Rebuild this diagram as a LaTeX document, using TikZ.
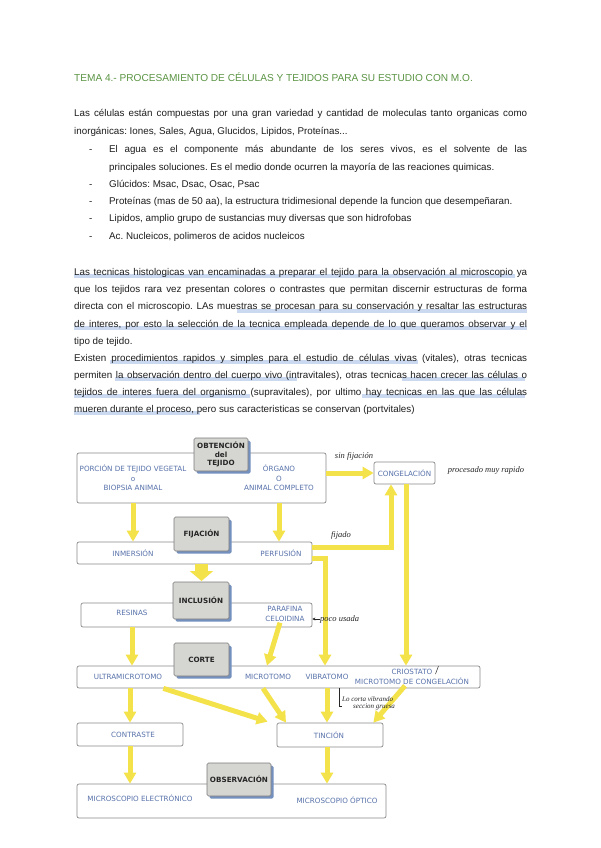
\documentclass[tikz,border=0pt]{standalone}
\usepackage{fontspec}
\setmainfont{Liberation Sans}
\newfontfamily\diafont{DejaVu Sans}
\newfontfamily\handfont{Liberation Serif}
\usetikzlibrary{arrows.meta,shadows}
\definecolor{titlegreen}{HTML}{5A9443}
\definecolor{bodytext}{HTML}{1E1E1E}
\definecolor{hlblue}{HTML}{CAD8F0}
\definecolor{diablue}{HTML}{5872AA}
\definecolor{boxborder}{HTML}{8A8A8A}
\definecolor{lblborder}{HTML}{7A7A7A}
\definecolor{lblfill}{HTML}{D5D5D1}
\definecolor{lblshadow}{HTML}{7390BE}
\definecolor{yel}{HTML}{F4E24A}
\newcommand{\jline}[2]{\makebox[#1][s]{#2}}
\frenchspacing
\begin{document}
\begin{tikzpicture}[x=1pt,y=-1pt,
  txt/.style={inner sep=0pt, anchor=base west, text=bodytext, font=\fontsize{9.8}{11}\selectfont},
  hl/.style={draw=hlblue, line width=4pt},
  wbox/.style={draw=boxborder, fill=white, rounded corners=2pt, line width=0.7pt, inner sep=0pt},
  lbl/.style={draw=lblborder, fill=lblfill, rounded corners=1.5pt, line width=0.6pt, inner sep=0pt, align=center, font=\diafont\bfseries\fontsize{7.2}{8.8}\selectfont, text=black!85, drop shadow={shadow xshift=2.5pt, shadow yshift=-2.5pt, fill=lblshadow, opacity=1}},
  dtext/.style={inner sep=1pt, align=center, text=diablue, font=\diafont\fontsize{7.2}{9.6}\selectfont},
  yarr/.style={draw=yel, line width=5pt, -{Triangle[width=12pt,length=11pt]}},
  fatarr/.style={draw=yel, line width=13pt, -{Triangle[width=23pt,length=10pt]}},
  hand/.style={inner sep=0pt, text=black!85, font=\handfont\itshape\fontsize{8.5}{9}\selectfont},
  handsmall/.style={inner sep=0pt, text=black!85, align=left, font=\handfont\itshape\fontsize{7}{8}\selectfont},
  handline/.style={draw=black!85, line width=0.5pt}
]
\fill[white] (0,0) rectangle (600,848);
\useasboundingbox (0,0) rectangle (600,848);

% ---------- title ----------
\node[txt, text=titlegreen, font=\fontsize{10.1}{11}\selectfont] (title) at (74,82) {TEMA 4.- PROCESAMIENTO DE CÉLULAS Y TEJIDOS PARA SU ESTUDIO CON M.O.};

% ---------- highlights ----------
\draw[hl] (74,276) -- (515,276);
\draw[hl] (237,310.5) -- (527,310.5);
\draw[hl] (74,328) -- (527,328);
\draw[hl] (110,362) -- (418,362);
\draw[hl] (115,379) -- (297,379);
\draw[hl] (402,379) -- (525,379);
\draw[hl] (74,396) -- (250,396);
\draw[hl] (362,396) -- (525,396);
\draw[hl] (74,413) -- (200,413);

% ---------- paragraph 1 ----------
\node[txt] (p1a) at (74,117) {\jline{453pt}{Las células están compuestas por una gran variedad y cantidad de moleculas tanto organicas como}};
\node[txt] (p1b) at (74,135) {inorgánicas: Iones, Sales, Agua, Glucidos, Lipidos, Proteínas...};
\node[txt] (d1) at (89,152) {-};
\node[txt] (b1a) at (109,152) {\jline{418pt}{El agua es el componente más abundante de los seres vivos, es el solvente de las}};
\node[txt] (b1b) at (109,170) {principales soluciones. Es el medio donde ocurren la mayoría de las reaciones quimicas.};
\node[txt] (d2) at (89,187) {-};
\node[txt] (b2) at (109,187) {Glúcidos: Msac, Dsac, Osac, Psac};
\node[txt] (d3) at (89,204) {-};
\node[txt] (b3) at (109,204) {Proteínas (mas de 50 aa), la estructura tridimesional depende la funcion que desempeñaran.};
\node[txt] (d4) at (89,221) {-};
\node[txt] (b4) at (109,221) {Lipidos, amplio grupo de sustancias muy diversas que son hidrofobas};
\node[txt] (d5) at (89,239) {-};
\node[txt] (b5) at (109,239) {Ac. Nucleicos, polimeros de acidos nucleicos};

% ---------- paragraph 2 ----------
\node[txt] (q1) at (74,275) {\jline{453pt}{Las tecnicas histologicas van encaminadas a preparar el tejido para la observación al microscopio ya}};
\node[txt] (q2) at (74,292) {\jline{453pt}{que los tejidos rara vez presentan colores o contrastes que permitan discernir estructuras de forma}};
\node[txt] (q3) at (74,309.5) {\jline{453pt}{directa con el microscopio. LAs muestras se procesan para su conservación y resaltar las estructuras}};
\node[txt] (q4) at (74,327) {\jline{453pt}{de interes, por esto la selección de la tecnica empleada depende de lo que queramos observar y el}};
\node[txt] (q5) at (74,344) {tipo de tejido.};
\node[txt] (q6) at (74,361) {\jline{453pt}{Existen procedimientos rapidos y simples para el estudio de células vivas (vitales), otras tecnicas}};
\node[txt] (q7) at (74,378) {\jline{453pt}{permiten la observación dentro del cuerpo vivo (intravitales), otras tecnicas hacen crecer las células o}};
\node[txt] (q8) at (74,395) {\jline{453pt}{tejidos de interes fuera del organismo (supravitales), por ultimo hay tecnicas en las que las células}};
\node[txt] (q9) at (74,412) {mueren durante el proceso, pero sus caracteristicas se conservan (portvitales)};

% ---------- diagram boxes ----------
\node[wbox, minimum width=249pt, minimum height=50pt] (bx1) at (201.5,478) {};
\node[wbox, minimum width=61pt, minimum height=22pt] (cong) at (404.5,473) {};
\node[wbox, minimum width=235pt, minimum height=22pt] (fij) at (194.5,553) {};
\node[wbox, minimum width=231pt, minimum height=24pt] (inc) at (196.5,615) {};
\node[wbox, minimum width=403pt, minimum height=22pt] (corte) at (278.5,677) {};
\node[wbox, minimum width=106pt, minimum height=23pt] (contr) at (130,734.5) {};
\node[wbox, minimum width=106pt, minimum height=24pt] (tinc) at (330,735) {};
\node[wbox, minimum width=309pt, minimum height=34pt] (obs) at (231.5,801) {};

% ---------- diagram texts ----------
\node[dtext] (porc) at (133,478) {PORCIÓN DE TEJIDO VEGETAL\\o\\BIOPSIA ANIMAL};
\node[dtext] (org) at (279,478) {ÓRGANO\\O\\ANIMAL COMPLETO};
\node[dtext] (congt) at (404.5,473) {CONGELACIÓN};
\node[dtext] (inm) at (133,553) {INMERSIÓN};
\node[dtext] (perf) at (281,553) {PERFUSIÓN};
\node[dtext] (res) at (132,613) {RESINAS};
\node[dtext] (paraf) at (285,614) {PARAFINA\\CELOIDINA};
\node[dtext] (ultra) at (128,677) {ULTRAMICROTOMO};
\node[dtext] (micro) at (268,677) {MICROTOMO};
\node[dtext] (vibra) at (327,677) {VIBRATOMO};
\node[dtext] (crio) at (412,677) {CRIOSTATO\\MICROTOMO DE CONGELACIÓN};
\node[dtext] (contrt) at (133,734.5) {CONTRASTE};
\node[dtext] (tinct) at (329,735) {TINCIÓN};
\node[dtext] (mel) at (140,798) {MICROSCOPIO ELECTRÓNICO};
\node[dtext] (mop) at (337,800) {MICROSCOPIO ÓPTICO};

% ---------- arrows ----------
\coordinate (vx) at (325,0);
\draw[yarr] (bx1.east |- cong.west) -- (cong.west);
\draw[yarr] (bx1.south -| porc) -- (fij.north -| porc);
\draw[yarr] (bx1.south -| org) -- (fij.north -| org);
\draw[fatarr] (fij.south -| 201.5,0) -- (201.5,581);
\draw[yarr] ([yshift=6pt]fij.east) -| ([xshift=-13.5pt]cong.south);
\draw[yarr] ([yshift=-5pt]fij.east) -| (corte.north -| vx);
\path ([xshift=1.5pt]cong.south) coordinate (c1);
\draw[yarr] (c1) -- (c1 |- corte.north);
\draw[yarr] (inc.south -| res) -- (corte.north -| res);
\draw[yarr] ([xshift=-5pt]paraf.south) -- ([xshift=-1pt]micro.north |- corte.north);
\draw[yarr] (corte.south -| contr) -- (contr.north);
\draw[yarr] (ultra.east |- corte.south) -- ([xshift=-9pt,yshift=1pt]tinc.north west);
\draw[yarr] ([xshift=-5pt]micro.south |- corte.south) -- ([xshift=-44pt]tinc.north);
\draw[yarr] (corte.south -| vibra) -- (tinc.north -| vibra);
\draw[yarr] ([xshift=-7pt]crio.south) -- ([xshift=-10pt]tinc.north east);
\draw[yarr] (contr.south) -- (obs.north -| contr);
\draw[yarr] (tinc.south -| vibra) -- (obs.north -| vibra);

% ---------- label boxes ----------
\node[lbl, minimum width=54pt, minimum height=33pt] (obt) at (221,454.5) {OBTENCIÓN\\del\\TEJIDO};
\node[lbl, minimum width=55pt, minimum height=34pt] (fijl) at (201.5,534) {FIJACIÓN};
\node[lbl, minimum width=56pt, minimum height=37pt] (incl) at (201,600.5) {INCLUSIÓN};
\node[lbl, minimum width=55pt, minimum height=33pt] (cortel) at (201.5,659.5) {CORTE};
\node[lbl, minimum width=64pt, minimum height=33pt] (obsl) at (239,779.5) {OBSERVACIÓN};

% ---------- handwritten notes ----------
\node[hand] (sinf) at (354,456) {sin fijación};
\node[hand] (proc) at (486,470) {procesado muy rapido};
\node[hand] (fijado) at (341,535) {fijado};
\node[hand, anchor=west] (poco) at (320,619) {poco usada};
\draw[handline, -{Stealth[length=3pt,width=3pt]}] (poco.west) -- (inc.east |- poco.west);
\node[handsmall, anchor=north west] (lo) at (342,696) {Lo corta vibrando\\[-1pt]\hspace*{11pt}seccion gruesa};
\coordinate (bk) at (339,0);
\draw[handline] (corte.south -| bk) |- ([yshift=-3pt]lo.west);
\draw[handline] (435.5,674) -- (438.5,666);
\end{tikzpicture}
\end{document}
